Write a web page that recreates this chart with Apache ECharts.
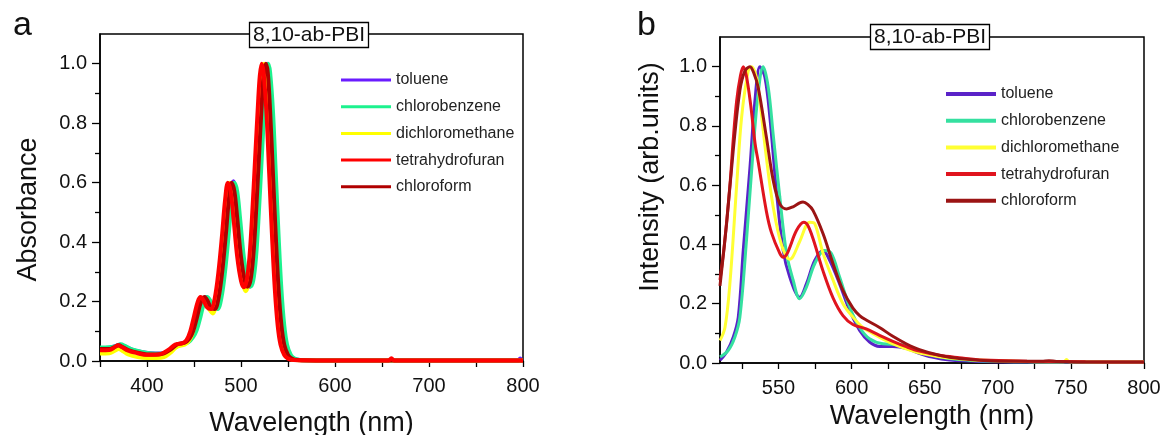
<!DOCTYPE html>
<html>
<head>
<meta charset="utf-8">
<script src="https://cdn.jsdelivr.net/npm/echarts@6/dist/echarts.min.js"></script>
<style>
  html, body { margin: 0; padding: 0; background: #fff; }
  #main { width: 1161px; height: 435px; }
</style>
</head>
<body>
<div id="main"></div>
<script>
var solvents = ['toluene', 'chlorobenzene', 'dichloromethane', 'tetrahydrofuran', 'chloroform'];

// panel a: absorbance [wavelength nm, absorbance]
var absToluene = [[350,0.044],[360,0.045],[366,0.05],[371,0.055],[376,0.05],[384,0.038],[394,0.03],[404,0.026],[414,0.025],[421,0.028],[429,0.045],[436,0.058],[443,0.063],[448,0.08],[452,0.105],[456,0.15],[460,0.2],[463,0.215],[466,0.205],[470,0.18],[474,0.175],[478,0.21],[482,0.3],[486,0.43],[489,0.54],[492,0.605],[495,0.57],[498,0.48],[502,0.35],[506,0.27],[509,0.25],[512,0.27],[515,0.35],[518,0.5],[521,0.68],[524,0.86],[526,0.96],[528,1.0],[530,0.97],[533,0.84],[536,0.63],[539,0.42],[542,0.24],[545,0.12],[548,0.055],[552,0.02],[556,0.008],[562,0.003],[580,0.002],[795,0.002],[797,0.008],[799,0.002],[800,0.002]];
var absChlorobenzene = [[350,0.045],[360,0.046],[367,0.05],[372,0.056],[377,0.05],[385,0.038],[395,0.03],[405,0.025],[415,0.024],[422,0.028],[430,0.045],[437,0.058],[444,0.063],[449,0.08],[453,0.105],[457,0.15],[461,0.2],[464,0.215],[467,0.205],[471,0.18],[475,0.175],[479,0.21],[483,0.3],[487,0.43],[490,0.54],[493,0.6],[496,0.57],[499,0.48],[503,0.35],[507,0.27],[510,0.25],[513,0.27],[516,0.35],[519,0.5],[522,0.68],[525,0.86],[527,0.96],[529,1.0],[531,0.97],[534,0.84],[537,0.63],[540,0.42],[543,0.24],[546,0.12],[549,0.055],[553,0.02],[557,0.008],[563,0.003],[580,0.002],[800,0.002]];
var absDichloromethane = [[350,0.025],[360,0.026],[365,0.033],[370,0.04],[374,0.034],[380,0.022],[390,0.013],[400,0.01],[410,0.01],[418,0.013],[425,0.028],[432,0.048],[440,0.055],[444,0.065],[448,0.09],[452,0.14],[456,0.19],[459,0.21],[462,0.2],[466,0.175],[470,0.16],[474,0.195],[478,0.29],[482,0.42],[485,0.53],[488,0.6],[491,0.57],[494,0.48],[498,0.35],[502,0.26],[505,0.235],[508,0.26],[511,0.34],[514,0.49],[517,0.67],[520,0.85],[522,0.95],[524.5,1.0],[526.5,0.97],[529,0.84],[532,0.63],[535,0.42],[538,0.24],[541,0.12],[544,0.055],[548,0.02],[552,0.008],[558,0.003],[580,0.002],[800,0.002]];
var absTetrahydrofuran = [[350,0.036],[360,0.037],[365,0.045],[369,0.053],[373,0.047],[380,0.035],[390,0.026],[398,0.021],[408,0.021],[416,0.025],[423,0.038],[430,0.055],[438,0.06],[442,0.07],[446,0.1],[450,0.15],[454,0.2],[457,0.215],[460,0.205],[464,0.18],[468,0.175],[472,0.21],[476,0.3],[480,0.43],[483,0.54],[486,0.6],[489,0.57],[492,0.48],[496,0.35],[500,0.27],[503,0.248],[506,0.27],[509,0.35],[512,0.5],[515,0.68],[518,0.86],[520,0.96],[522,1.0],[524,0.97],[527,0.84],[530,0.63],[533,0.42],[536,0.24],[539,0.12],[542,0.055],[546,0.02],[550,0.008],[556,0.003],[580,0.002],[657,0.002],[660,0.009],[663,0.002],[800,0.002]];
var absChloroform = [[350,0.04],[360,0.04],[365,0.046],[370,0.053],[374,0.047],[380,0.037],[390,0.028],[400,0.022],[410,0.022],[418,0.026],[425,0.038],[432,0.056],[440,0.062],[445,0.075],[449,0.1],[453,0.145],[457,0.195],[461,0.215],[464,0.205],[468,0.18],[472,0.175],[476,0.21],[480,0.3],[484,0.43],[487,0.54],[490,0.6],[493,0.57],[496,0.48],[500,0.35],[504,0.27],[507,0.25],[510,0.27],[513,0.35],[516,0.5],[519,0.68],[522,0.86],[524,0.96],[526.5,1.0],[528.5,0.97],[531,0.84],[534,0.63],[537,0.42],[540,0.24],[543,0.12],[546,0.055],[550,0.02],[554,0.008],[560,0.003],[580,0.002],[800,0.002]];

// panel b: photoluminescence [wavelength nm, normalised intensity]
var plToluene = [[510,0.009],[514.5,0.037],[519.1,0.088],[522.5,0.155],[525.9,0.38],[530.5,0.66],[533.9,0.885],[537.3,1.0],[540.7,0.964],[544.1,0.83],[548.6,0.58],[553.2,0.38],[557.7,0.29],[564.5,0.222],[569.1,0.267],[574.8,0.346],[580.5,0.38],[585,0.346],[591.8,0.267],[598.6,0.178],[605.5,0.11],[612.3,0.071],[619.1,0.056],[628.2,0.056],[637.3,0.05],[645,0.035],[655,0.02],[667,0.01],[690,0.005],[720,0.003],[800,0.002]];
var plChlorobenzene = [[510,0.02],[515.7,0.043],[520.2,0.088],[523.6,0.155],[528.2,0.42],[532.7,0.72],[536.1,0.91],[539.5,1.0],[543,0.93],[546.4,0.77],[550.9,0.56],[555.5,0.37],[560,0.28],[564.5,0.217],[569.1,0.256],[574.8,0.335],[581.6,0.38],[586.1,0.37],[591.8,0.29],[598.6,0.19],[605.5,0.12],[612.3,0.082],[621.4,0.065],[630.5,0.063],[637.3,0.06],[645,0.045],[655,0.028],[667,0.015],[690,0.007],[720,0.004],[800,0.003]];
var plDichloromethane = [[510,0.076],[513.4,0.12],[516.8,0.27],[521.4,0.6],[524.8,0.83],[529.3,0.985],[531.6,1.0],[534,0.98],[536.1,0.93],[541.8,0.69],[546.4,0.526],[552,0.4],[557.7,0.35],[560,0.36],[564.5,0.41],[571.4,0.475],[574.8,0.47],[580.5,0.37],[587.3,0.28],[594.1,0.2],[600.9,0.155],[607.7,0.12],[616.8,0.093],[625.9,0.07],[637.3,0.048],[650,0.03],[665,0.018],[690,0.009],[720,0.005],[745,0.004],[747,0.012],[749,0.004],[800,0.003]];
var plTetrahydrofuran = [[510,0.28],[513,0.4],[516.8,0.6],[519,0.75],[521.4,0.885],[524,0.97],[525.9,1.0],[528,0.97],[531,0.87],[534,0.74],[536.1,0.68],[541.8,0.51],[545.2,0.44],[550.9,0.37],[553.2,0.357],[556,0.37],[562.3,0.447],[567.3,0.475],[570,0.465],[573.6,0.42],[580.5,0.31],[587.3,0.22],[594.1,0.16],[600.9,0.13],[610,0.115],[619.1,0.093],[628.2,0.073],[637.3,0.055],[646.4,0.04],[660,0.026],[673.6,0.018],[690,0.01],[720,0.006],[760,0.004],[800,0.003]];
var plChloroform = [[510,0.26],[514.5,0.47],[519.1,0.72],[523.6,0.92],[527,0.985],[530.5,1.0],[533,0.98],[536.1,0.93],[541.8,0.76],[546.4,0.616],[550.9,0.537],[555.5,0.52],[560,0.527],[564.5,0.54],[566.8,0.543],[570,0.535],[573.6,0.515],[580.5,0.436],[587.3,0.335],[594.1,0.245],[600.9,0.185],[605.5,0.16],[610,0.145],[619.1,0.12],[628.2,0.09],[637.3,0.065],[646.4,0.045],[660,0.026],[673.6,0.015],[701,0.006],[730,0.006],[735,0.008],[740,0.005],[770,0.003],[800,0.003]];

// tick values
var absXLabels = [400, 500, 600, 700, 800];
var absXTicks = [350, 400, 450, 500, 550, 600, 650, 700, 750, 800];
var plXLabels = [550, 600, 650, 700, 750, 800];
var plXTicks = [525, 550, 575, 600, 625, 650, 675, 700, 725, 750, 775, 800];
var yLabels = [0, 0.2, 0.4, 0.6, 0.8, 1.0];
var yMinorTicks = [0.1, 0.3, 0.5, 0.7, 0.9];

var absColors = ['#6a1cff', '#1cf28e', '#ffff00', '#ff0000', '#b00000'];
var plColors = ['#5a22c8', '#35e0a0', '#ffff33', '#e0141e', '#9b1414'];

var FONT = '"Liberation Sans", Arial, sans-serif';

var chart = echarts.init(document.getElementById('main'));

function xAxisFor(grid, min, max, labels, ticks, nameGap) {
  return {
    type: 'value', gridIndex: grid, min: min, max: max,
    name: 'Wavelength (nm)', nameLocation: 'middle', nameGap: nameGap,
    nameTextStyle: { fontSize: 27, color: '#111', fontFamily: FONT },
    axisLine: { lineStyle: { color: '#000', width: 1.5 } },
    axisTick: { inside: false, length: 6, customValues: ticks, lineStyle: { color: '#000', width: 1.3 } },
    axisLabel: { customValues: labels, margin: 15, fontSize: 20, color: '#111', fontFamily: FONT },
    splitLine: { show: false }
  };
}

function yAxisFor(grid, name, nameGap, pad) {
  return {
    type: 'value', gridIndex: grid, min: 0, max: 1.1, position: 'left',
    name: name, nameLocation: 'middle', nameGap: nameGap, nameRotate: 90,
    nameTextStyle: { fontSize: 27, color: '#111', fontFamily: FONT, padding: pad },
    axisLine: { lineStyle: { color: '#000', width: 1.5 } },
    axisTick: { length: 8, customValues: yLabels, lineStyle: { color: '#000', width: 1.3 } },
    axisLabel: {
      customValues: yLabels, margin: 13, fontSize: 20, color: '#111', fontFamily: FONT,
      formatter: function (v) { return v.toFixed(1); }
    },
    splitLine: { show: false }
  };
}

function minorYAxis(grid) {
  return {
    type: 'value', gridIndex: grid, min: 0, max: 1.1, position: 'left', offset: 0,
    axisLine: { show: false },
    axisTick: { length: 5, customValues: yMinorTicks, lineStyle: { color: '#000', width: 1.3 } },
    axisLabel: { show: false },
    splitLine: { show: false }
  };
}

function line(name, data, color, xi, yi, width) {
  return {
    type: 'line', name: name, data: data, xAxisIndex: xi, yAxisIndex: yi,
    symbol: 'none', showSymbol: false, smooth: 0.35,
    lineStyle: { color: color, width: width },
    itemStyle: { color: color }
  };
}

function legendFor(left, top, colors, h) {
  return {
    orient: 'vertical', left: left, top: top, padding: 0,
    icon: 'rect', itemWidth: 50, itemHeight: h, itemGap: 6.7,
    selectedMode: false,
    textStyle: { fontSize: 16, lineHeight: 20, color: '#222', fontFamily: FONT },
    data: solvents.map(function (n, i) {
      return { name: n, itemStyle: { color: colors[i] } };
    })
  };
}

function boxTitle(left, top) {
  return {
    text: '8,10-ab-PBI', left: left, top: top, padding: [2, 4, 2, 4],
    borderColor: '#000', borderWidth: 1.3, backgroundColor: '#fff',
    textStyle: { fontSize: 21, lineHeight: 22, fontWeight: 'normal', color: '#111', fontFamily: FONT }
  };
}

chart.setOption({
  animation: false,
  backgroundColor: '#fff',
  title: [
    { text: 'a', left: 13, top: 9, padding: 0, textStyle: { fontSize: 34, lineHeight: 34, fontWeight: 'normal', color: '#111', fontFamily: FONT } },
    { text: 'b', left: 637, top: 9, padding: 0, textStyle: { fontSize: 34, lineHeight: 34, fontWeight: 'normal', color: '#111', fontFamily: FONT } },
    boxTitle(249, 22),
    boxTitle(870, 24)
  ],
  legend: [
    legendFor(341, 70, absColors, 3),
    legendFor(946, 84, plColors, 4)
  ],
  grid: [
    { left: 100, top: 34, width: 423, height: 327, outerBoundsMode: 'none', containLabel: false,
      show: true, borderColor: '#000', borderWidth: 1.5, backgroundColor: 'transparent' },
    { left: 720, top: 37, width: 424, height: 326, outerBoundsMode: 'none', containLabel: false,
      show: true, borderColor: '#000', borderWidth: 1.5, backgroundColor: 'transparent' }
  ],
  xAxis: [
    xAxisFor(0, 350, 800, absXLabels, absXTicks, 49),
    xAxisFor(1, 510, 800, plXLabels, plXTicks, 31)
  ],
  yAxis: [
    yAxisFor(0, 'Absorbance', 58, [0, 24, 0, 0]),
    minorYAxis(0),
    yAxisFor(1, 'Intensity (arb.units)', 56, [0, 0, 0, 46]),
    minorYAxis(1)
  ],
  series: [
    line('toluene', absToluene, absColors[0], 0, 0, 4),
    line('chlorobenzene', absChlorobenzene, absColors[1], 0, 0, 4),
    line('dichloromethane', absDichloromethane, absColors[2], 0, 0, 4),
    line('chloroform', absChloroform, absColors[4], 0, 0, 4),
    line('tetrahydrofuran', absTetrahydrofuran, absColors[3], 0, 0, 4),
    line('toluene', plToluene, plColors[0], 1, 2, 3),
    line('chlorobenzene', plChlorobenzene, plColors[1], 1, 2, 3),
    line('dichloromethane', plDichloromethane, plColors[2], 1, 2, 3),
    line('tetrahydrofuran', plTetrahydrofuran, plColors[3], 1, 2, 3),
    line('chloroform', plChloroform, plColors[4], 1, 2, 3)
  ]
});
</script>
</body>
</html>
